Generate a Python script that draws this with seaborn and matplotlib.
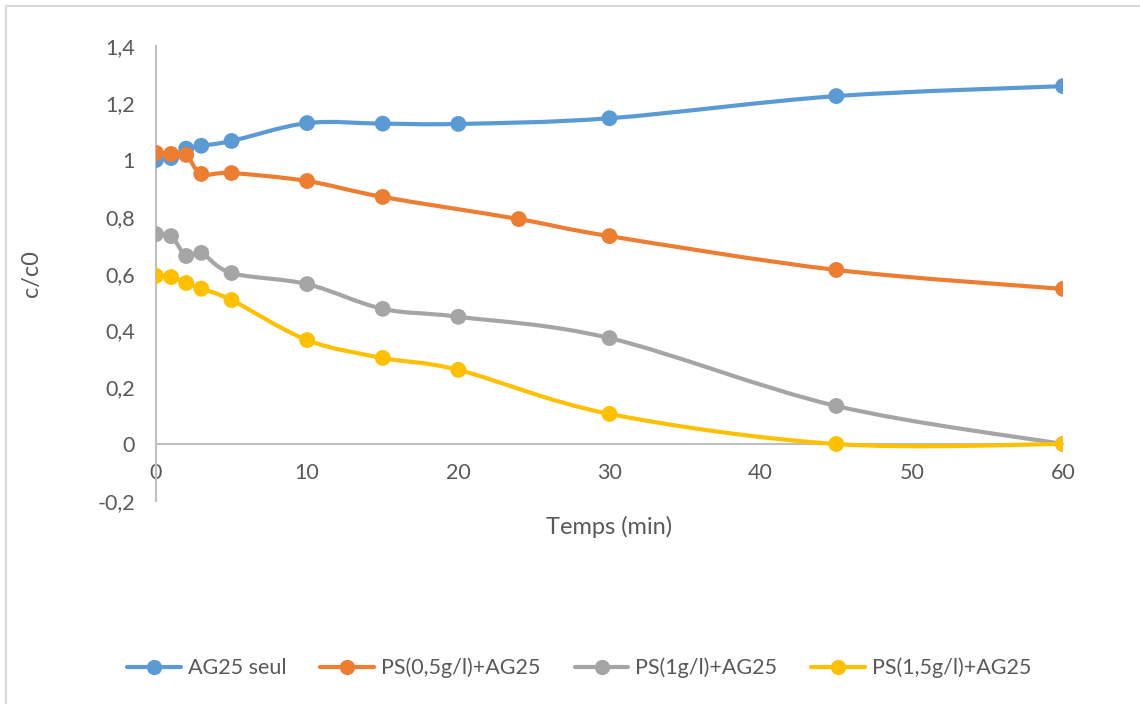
import numpy as np
import matplotlib
matplotlib.use("Agg")
import matplotlib.pyplot as plt
from matplotlib.path import Path
from matplotlib.patches import PathPatch, Rectangle
from matplotlib.lines import Line2D
from matplotlib.ticker import FuncFormatter, MultipleLocator
import seaborn as sns
import pandas as pd

# Sampling times (min)
t_main = [0, 1, 2, 3, 5, 10, 15, 20, 30, 45, 60]
t_ps05 = [0, 1, 2, 3, 5, 10, 15, 24, 30, 45, 60]

# Relative concentration c/c0
ag25_seul = [1.00, 1.007, 1.04, 1.05, 1.067, 1.13, 1.128, 1.127, 1.147, 1.225, 1.26]
ps_05 = [1.025, 1.021, 1.018, 0.951, 0.954, 0.926, 0.870, 0.792, 0.732, 0.613, 0.546]
ps_1 = [0.739, 0.732, 0.662, 0.673, 0.602, 0.563, 0.476, 0.448, 0.373, 0.134, 0.0]
ps_15 = [0.592, 0.588, 0.567, 0.547, 0.507, 0.366, 0.303, 0.261, 0.106, 0.0, 0.0]

labels = ["AG25 seul", "PS(0,5g/l)+AG25", "PS(1g/l)+AG25", "PS(1,5g/l)+AG25"]
colors = ["#5B9BD5", "#ED7D31", "#A5A5A5", "#FFC000"]
series = [(t_main, ag25_seul), (t_ps05, ps_05), (t_main, ps_1), (t_main, ps_15)]

sns.set_theme(style="white")
plt.rcParams["font.family"] = ["Lato", "DejaVu Sans"]
text_color = "#595959"
axis_color = "#BFBFBF"

fig = plt.figure(figsize=(11.4, 7.04), dpi=100)
ax = fig.add_axes([0.1368, 0.2886, 0.7957, 0.6455])


def smooth_path(x, y):
    """Bezier path through the points, in the style of spreadsheet smoothed lines."""
    pts = np.column_stack([x, y]).astype(float)
    n = len(pts)
    verts = [pts[0]]
    codes = [Path.MOVETO]
    for i in range(n - 1):
        p0 = pts[i - 1] if i > 0 else pts[i]
        p1 = pts[i]
        p2 = pts[i + 1]
        p3 = pts[i + 2] if i + 2 < n else pts[i + 1]
        c1 = p1 + (p2 - p0) / 6.0
        c2 = p2 - (p3 - p1) / 6.0
        verts += [c1, c2, p2]
        codes += [Path.CURVE4] * 3
    return Path(verts, codes)


frames = []
for (tx, vals), lab in zip(series, labels):
    frames.append(pd.DataFrame({"Temps": tx, "c/c0": vals, "serie": lab}))
df = pd.concat(frames, ignore_index=True)

for (tx, vals), col in zip(series, colors):
    ax.add_patch(PathPatch(smooth_path(tx, vals), facecolor="none",
                           edgecolor=col, lw=3.0, capstyle="round",
                           joinstyle="round", zorder=2))

sns.scatterplot(data=df, x="Temps", y="c/c0", hue="serie", palette=colors,
                hue_order=labels, s=130, edgecolor="none", linewidth=0,
                legend=False, ax=ax, zorder=3)

ax.set_xlim(0, 60)
ax.set_ylim(-0.2, 1.4)
ax.xaxis.set_major_locator(MultipleLocator(10))
ax.yaxis.set_major_locator(MultipleLocator(0.2))

comma = FuncFormatter(lambda v, p: ("%g" % round(v, 1)).replace(".", ","))
ax.xaxis.set_major_formatter(comma)
ax.yaxis.set_major_formatter(comma)

for side in ["top", "right"]:
    ax.spines[side].set_visible(False)
ax.spines["bottom"].set_position(("data", 0))
ax.spines["bottom"].set_color(axis_color)
ax.spines["left"].set_color(axis_color)
ax.spines["bottom"].set_linewidth(1.5)
ax.spines["left"].set_linewidth(1.5)
ax.spines["bottom"].set_zorder(1)

ax.tick_params(axis="x", length=0, pad=14, labelsize=15.5, labelcolor=text_color)
ax.tick_params(axis="y", length=0, pad=15, labelsize=15.5, labelcolor=text_color)
ax.grid(False)

ax.set_xlabel("Temps (min)", fontsize=17, color=text_color)
ax.set_ylabel("c/c0", fontsize=17, color=text_color)
ax.xaxis.set_label_coords(0.5, -0.034)
ax.yaxis.set_label_coords(-0.126, 0.5)

handles = [Line2D([0], [0], color=c, lw=3, marker="o", markersize=11,
                  markeredgewidth=0) for c in colors]
fig.legend(handles, labels, loc="center", bbox_to_anchor=(0.508, 0.051),
           ncol=4, frameon=False, fontsize=15.5, labelcolor=text_color,
           handlelength=2.5, handletextpad=0.3, columnspacing=1.6)

# light frame around the chart area
fig.patches.append(Rectangle((6 / 1140, -0.01), 1.02, 1 - 6 / 704 + 0.01,
                             transform=fig.transFigure, fill=False,
                             edgecolor="#D9D9D9", lw=1.5))

fig.savefig("out.png", dpi=100, facecolor="white")
